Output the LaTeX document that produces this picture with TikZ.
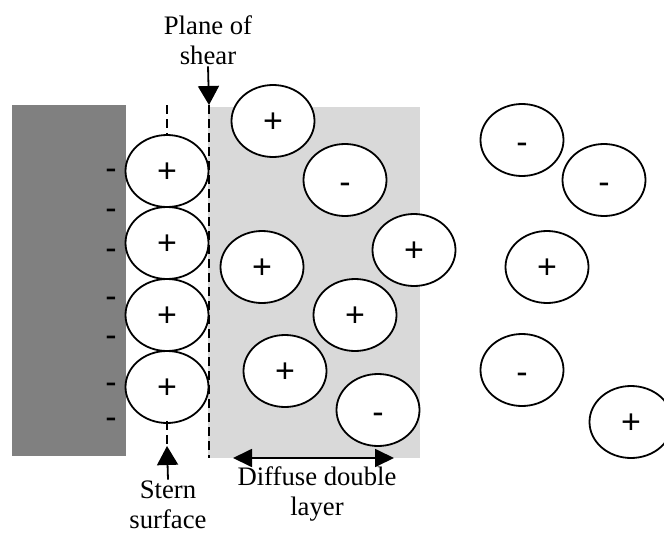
\documentclass[tikz,border=0pt]{standalone}
\usepackage{fontspec}
\setmainfont{Liberation Serif}
\newfontfamily\signfont{Liberation Sans}
\usetikzlibrary{arrows.meta,shapes.geometric}
\definecolor{wall}{HTML}{808080}
\definecolor{diffuse}{HTML}{D9D9D9}
\begin{document}
\begin{tikzpicture}[x=1pt,y=-1pt,
  ion/.style={ellipse, draw=black, line width=1.8pt, fill=white, minimum width=83pt, minimum height=72pt, inner sep=0pt, font=\signfont\fontsize{34}{34}\selectfont},
  plus/.style={ion, text height=22pt, text depth=0pt},
  minus/.style={ion, text height=26pt, text depth=0pt},
  wallsign/.style={anchor=base, inner sep=0pt, font=\signfont\fontsize{34}{34}\selectfont},
  lbl/.style={align=center, anchor=base, inner sep=2pt, font=\fontsize{26.7}{29.5}\selectfont},
  dashline/.style={draw=black, line width=1.8pt, dash pattern=on 9pt off 5pt},
  arr/.style={draw=black, line width=1.8pt, -{Triangle[length=19pt,width=21pt]}},
  darr/.style={draw=black, line width=1.8pt, {Triangle[length=19pt,width=18pt]}-{Triangle[length=19pt,width=18pt]}}
]
\useasboundingbox (0,0) rectangle (664,535);
% regions
\fill[wall] (12,105) rectangle (126,456);
\fill[diffuse] (208,107) rectangle (420,458);
% wall charges
\foreach \yy/\nm in {168/m1,208/m2,248/m3,296/m4,335/m5,382/m6,417/m7}
  \node[wallsign] (\nm) at (111,\yy+11) {-};
% plane of shear
\coordinate (ptop) at (209,105);
\coordinate (pbot) at (209,458);
\draw[dashline] (ptop) -- (pbot);
% Stern layer ions
\node[plus] (s1) at (167,171) {+};
\node[plus] (s2) at (167,243) {+};
\node[plus] (s3) at (167,315) {+};
\node[plus] (s4) at (167,387) {+};
\coordinate (stop) at (167,105);
\coordinate (sbot) at (167,446);
\draw[dashline] (stop) -- (s1.north);
\draw[dashline] ([yshift=3pt]s4.south) -- (sbot);
% diffuse layer ions
\node[plus]  (a) at (273,121) {+};
\node[minus] (b) at (345,180) {-};
\node[plus]  (c) at (414,250) {+};
\node[plus]  (d) at (262,267) {+};
\node[plus]  (e) at (355,315) {+};
\node[plus]  (f) at (285,371) {+};
\node[minus] (g) at (378,410) {-};
% bulk ions
\node[minus] (h) at (522,140) {-};
\node[minus] (i) at (604,180) {-};
\node[plus]  (j) at (547,267) {+};
\node[minus] (k) at (522,370) {-};
\node[plus]  (l) at (631,422) {+};
% labels
\node[lbl] (plane) at (208,64) {Plane of\\shear};
\draw[arr] (plane.south) -- (ptop);
\node[lbl, inner sep=1pt] (stern) at (168,528) {Stern\\surface};
\draw[arr] (stern.north) -- (sbot);
\coordinate (dl) at (233,458);
\coordinate (dr) at (394,458);
\draw[darr] (dl) -- (dr);
\node[lbl] (ddl) at (317,515) {Diffuse double\\layer};
\end{tikzpicture}
\end{document}
